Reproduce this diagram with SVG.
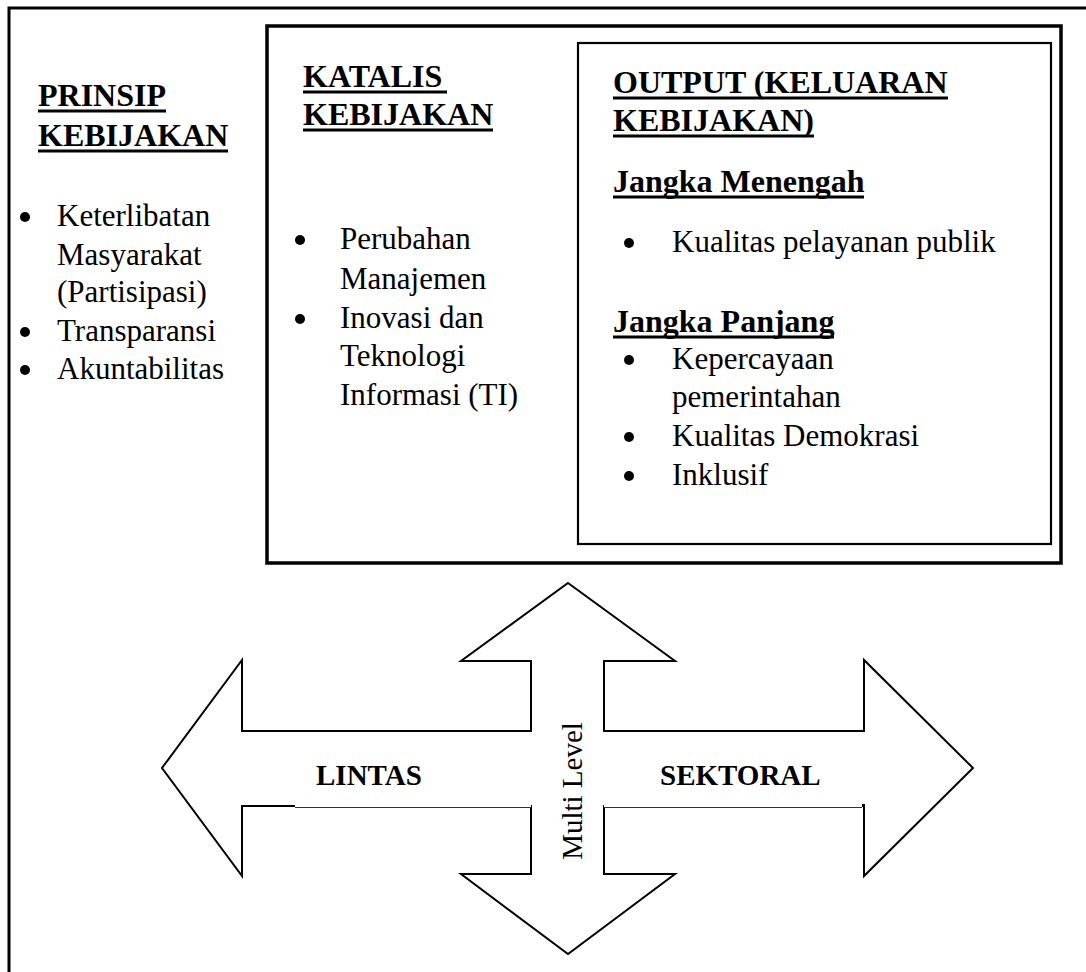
<svg xmlns="http://www.w3.org/2000/svg" width="1086" height="972" viewBox="0 0 1086 972">
<style>
  text { font-family: "Liberation Serif", "Times New Roman", serif; fill: #000; }
  .h { font-weight: bold; font-size: 32px; }
  .b { font-size: 31px; }
  .lbl { font-weight: bold; font-size: 29px; }
  .ul { stroke: #000; stroke-width: 3; }
  .dot { fill: #000; }
  .shape { fill: #fff; stroke: #000; stroke-width: 2; stroke-linejoin: miter; }
</style>
<rect width="1086" height="972" fill="#fff"/>

<g id="frame">
  <rect x="9" y="8" width="1100" height="1000" fill="none" stroke="#000" stroke-width="3"/>
</g>

<g id="prinsip">
  <text class="h" x="38" y="106">PRINSIP</text>
  <line class="ul" x1="38" y1="111" x2="166" y2="111"/>
  <text class="h" x="38" y="146">KEBIJAKAN</text>
  <line class="ul" x1="38" y1="151" x2="228" y2="151"/>
  <circle class="dot" cx="25" cy="217" r="5"/>
  <text class="b" x="57" y="226">Keterlibatan</text>
  <text class="b" x="57" y="265">Masyarakat</text>
  <text class="b" x="57" y="302">(Partisipasi)</text>
  <circle class="dot" cx="25" cy="332" r="5"/>
  <text class="b" x="57" y="341">Transparansi</text>
  <circle class="dot" cx="25" cy="370" r="5"/>
  <text class="b" x="57" y="379">Akuntabilitas</text>
</g>

<g id="katalis-box">
  <rect x="267" y="26" width="794" height="537" fill="none" stroke="#000" stroke-width="3.5"/>
</g>

<g id="katalis">
  <text class="h" x="303" y="87">KATALIS</text>
  <line class="ul" x1="303" y1="92" x2="447" y2="92"/>
  <text class="h" x="303" y="125">KEBIJAKAN</text>
  <line class="ul" x1="303" y1="130" x2="493" y2="130"/>
  <circle class="dot" cx="300" cy="240" r="5"/>
  <text class="b" x="340" y="249">Perubahan</text>
  <text class="b" x="340" y="289">Manajemen</text>
  <circle class="dot" cx="300" cy="319" r="5"/>
  <text class="b" x="340" y="328">Inovasi dan</text>
  <text class="b" x="340" y="366">Teknologi</text>
  <text class="b" x="340" y="405">Informasi (TI)</text>
</g>

<g id="output">
  <rect x="578" y="43" width="473" height="501" fill="none" stroke="#000" stroke-width="2.2"/>
  <text class="h" x="613" y="93">OUTPUT (KELUARAN</text>
  <line class="ul" x1="613" y1="98" x2="948" y2="98"/>
  <text class="h" x="613" y="131">KEBIJAKAN)</text>
  <line class="ul" x1="613" y1="136" x2="814" y2="136"/>
  <text class="h" x="613" y="192">Jangka Menengah</text>
  <line class="ul" x1="613" y1="197" x2="864" y2="197"/>
  <circle class="dot" cx="629" cy="243" r="5"/>
  <text class="b" x="672" y="252">Kualitas pelayanan publik</text>
  <text class="h" x="613" y="332">Jangka Panjang</text>
  <line class="ul" x1="613" y1="337" x2="834" y2="337"/>
  <circle class="dot" cx="629" cy="360" r="5"/>
  <text class="b" x="672" y="369">Kepercayaan</text>
  <text class="b" x="672" y="407">pemerintahan</text>
  <circle class="dot" cx="629" cy="437" r="5"/>
  <text class="b" x="672" y="446">Kualitas Demokrasi</text>
  <circle class="dot" cx="629" cy="476" r="5"/>
  <text class="b" x="672" y="485">Inklusif</text>
</g>

<g id="arrows">
  <path class="shape" d="M568,583 L675,661 L604,661 L604,731 L864,731 L864,660 L973,768 L864,876 L864,806 L604,806 L604,874 L675,874 L568,954 L461,874 L531,874 L531,806 L242,806 L242,876 L162,768 L242,660 L242,731 L531,731 L531,661 L461,661 Z"/>
  <line x1="295" y1="806" x2="531" y2="806" stroke="#fff" stroke-width="3"/>
  <line x1="295" y1="807.5" x2="531" y2="807.5" stroke="#333" stroke-width="1.2"/>
  <line x1="604" y1="806" x2="862" y2="806" stroke="#fff" stroke-width="3"/>
  <line x1="604" y1="807.5" x2="862" y2="807.5" stroke="#333" stroke-width="1.2"/>
  <line x1="862" y1="805" x2="865" y2="805" stroke="#000" stroke-width="2"/>
</g>

<g id="labels">
  <text class="lbl" x="316" y="785">LINTAS</text>
  <text class="lbl" x="660" y="785">SEKTORAL</text>
  <text class="b" font-size="29" transform="translate(582,791) rotate(-90)" text-anchor="middle" style="font-size:29px">Multi Level</text>
</g>
</svg>
